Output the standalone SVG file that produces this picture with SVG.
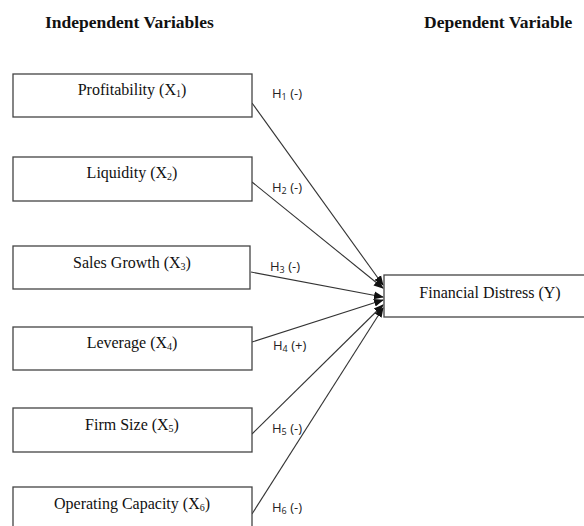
<svg xmlns="http://www.w3.org/2000/svg" width="584" height="526" viewBox="0 0 584 526">
<style>
.title{font-family:"Liberation Serif","Times New Roman",serif;font-weight:bold;font-size:17.5px;fill:#111}
.box{fill:#fff;stroke:#444;stroke-width:1.3}
.bt{font-family:"Liberation Serif","Times New Roman",serif;font-size:16px;fill:#111;text-anchor:middle}
.lbl{font-family:"Open Sans","Liberation Sans",sans-serif;font-size:13px;fill:#222}
.sub{font-size:9px}
.bt .sub{font-size:10px}
.edge{stroke:#333;stroke-width:1.1;fill:none;marker-end:url(#arr)}
</style>
<defs>
<marker id="arr" markerWidth="10" markerHeight="10" refX="9" refY="5" orient="auto" markerUnits="userSpaceOnUse">
<path d="M0,1 L10,5 L0,9 Z" fill="#111"/>
</marker>
</defs>
<text class="title" x="45" y="28">Independent Variables</text>
<text class="title" x="424" y="28">Dependent Variable</text>
<g id="connectors">
<line class="edge" x1="252" y1="103" x2="383" y2="285"/>
<line class="edge" x1="252" y1="182" x2="383" y2="288"/>
<line class="edge" x1="251" y1="272" x2="383" y2="297"/>
<line class="edge" x1="252" y1="342" x2="383" y2="300"/>
<line class="edge" x1="252" y1="434" x2="383" y2="305"/>
<line class="edge" x1="252" y1="514" x2="383" y2="308"/>
<text class="lbl" x="272" y="98">H<tspan class="sub" dy="2">1</tspan><tspan dy="-2"> (-)</tspan></text>
<text class="lbl" x="272" y="192">H<tspan class="sub" dy="2">2</tspan><tspan dy="-2"> (-)</tspan></text>
<text class="lbl" x="270" y="271">H<tspan class="sub" dy="2">3</tspan><tspan dy="-2"> (-)</tspan></text>
<text class="lbl" x="273" y="350">H<tspan class="sub" dy="2">4</tspan><tspan dy="-2"> (+)</tspan></text>
<text class="lbl" x="272" y="433">H<tspan class="sub" dy="2">5</tspan><tspan dy="-2"> (-)</tspan></text>
<text class="lbl" x="272" y="512">H<tspan class="sub" dy="2">6</tspan><tspan dy="-2"> (-)</tspan></text>
</g>
<g id="x1"><rect class="box" x="13" y="74" width="239" height="43"/><text class="bt" x="132" y="95">Profitability (X<tspan class="sub" dy="2">1</tspan><tspan dy="-2">)</tspan></text></g>
<g id="x2"><rect class="box" x="13" y="157" width="239" height="44"/><text class="bt" x="132" y="178">Liquidity (X<tspan class="sub" dy="2">2</tspan><tspan dy="-2">)</tspan></text></g>
<g id="x3"><rect class="box" x="13" y="246" width="237" height="43"/><text class="bt" x="132" y="268">Sales Growth (X<tspan class="sub" dy="2">3</tspan><tspan dy="-2">)</tspan></text></g>
<g id="x4"><rect class="box" x="13" y="327" width="239" height="43"/><text class="bt" x="132" y="348">Leverage (X<tspan class="sub" dy="2">4</tspan><tspan dy="-2">)</tspan></text></g>
<g id="x5"><rect class="box" x="13" y="408" width="239" height="44"/><text class="bt" x="132" y="430">Firm Size (X<tspan class="sub" dy="2">5</tspan><tspan dy="-2">)</tspan></text></g>
<g id="x6"><rect class="box" x="13" y="487" width="239" height="44"/><text class="bt" x="132" y="509">Operating Capacity (X<tspan class="sub" dy="2">6</tspan><tspan dy="-2">)</tspan></text></g>
<g id="y"><rect class="box" x="384" y="275" width="201" height="42"/><text class="bt" x="490" y="298">Financial Distress (Y)</text></g>
</svg>
